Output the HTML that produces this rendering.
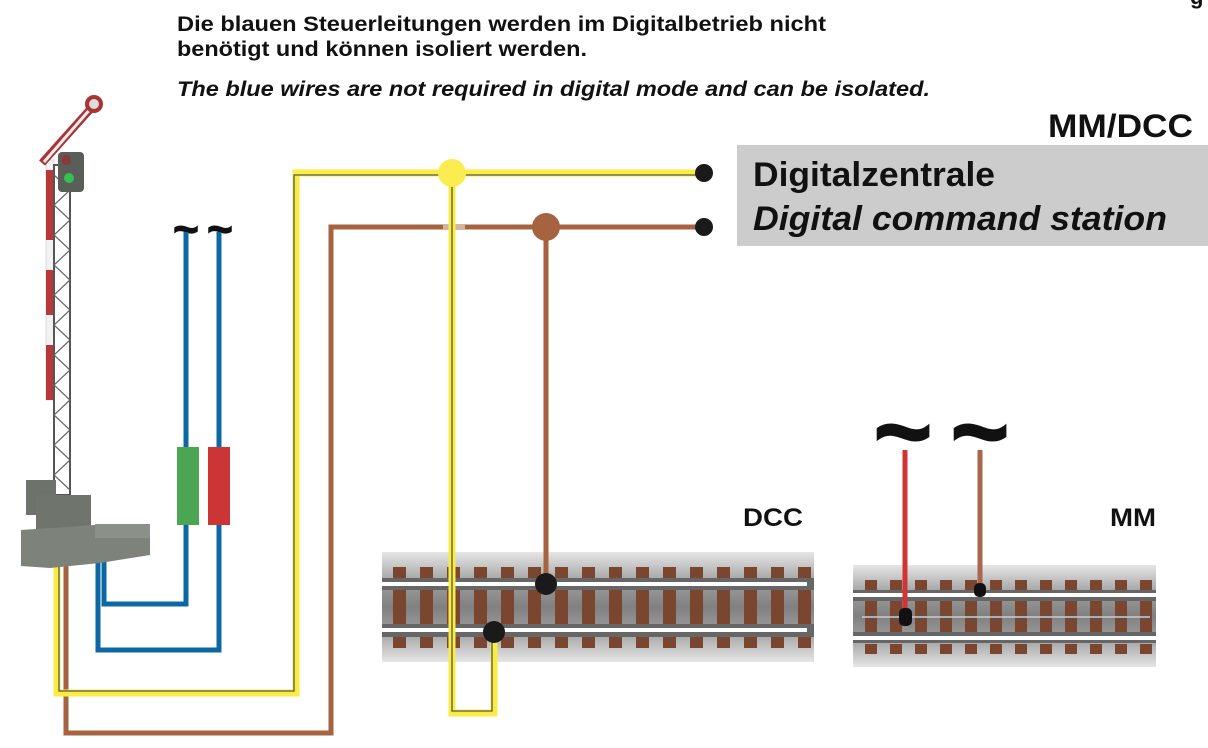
<!DOCTYPE html>
<html><head><meta charset="utf-8"><style>
html,body{margin:0;padding:0;background:#fff;}
svg{display:block;font-family:"Liberation Sans",sans-serif;}
</style></head><body>
<svg width="1208" height="748" viewBox="0 0 1208 748" xmlns="http://www.w3.org/2000/svg">
<defs>
<linearGradient id="tg" x1="0" y1="0" x2="0" y2="1">
<stop offset="0" stop-color="#e6e6e6"/><stop offset="0.3" stop-color="#9a9a9a"/><stop offset="0.5" stop-color="#808080"/><stop offset="0.7" stop-color="#9a9a9a"/><stop offset="1" stop-color="#e6e6e6"/>
</linearGradient>
<pattern id="tiesD" x="393" y="0" width="27" height="748" patternUnits="userSpaceOnUse">
<rect x="0" y="567" width="13" height="11" fill="#7a4630"/>
<rect x="0" y="590" width="13" height="34" fill="#7a4630"/>
<rect x="0" y="637" width="13" height="11" fill="#7a4630"/>
</pattern>
<pattern id="tiesM" x="865" y="0" width="25" height="748" patternUnits="userSpaceOnUse">
<rect x="0" y="580" width="12" height="10" fill="#7a4630"/>
<rect x="0" y="601" width="12" height="31" fill="#7a4630"/>
<rect x="0" y="644" width="12" height="10" fill="#7a4630"/>
<rect x="2" y="615" width="8" height="4" fill="#555"/>
</pattern>
</defs>

<text x="177" y="31" font-size="21" font-weight="bold" textLength="649" lengthAdjust="spacingAndGlyphs" fill="#111">Die blauen Steuerleitungen werden im Digitalbetrieb nicht</text>
<text x="177" y="56" font-size="21" font-weight="bold" textLength="410" lengthAdjust="spacingAndGlyphs" fill="#111">benötigt und können isoliert werden.</text>
<text x="177" y="96" font-size="21" font-weight="bold" font-style="italic" textLength="753" lengthAdjust="spacingAndGlyphs" fill="#111">The blue wires are not required in digital mode and can be isolated.</text>
<text x="1048" y="137" font-size="32" font-weight="bold" textLength="145" lengthAdjust="spacingAndGlyphs" fill="#111">MM/DCC</text>
<text x="1190" y="4" font-size="22" font-weight="bold" fill="#111">g</text>

<rect x="737" y="145" width="471" height="101" fill="#cccccc"/>
<text x="753" y="186" font-size="34" font-weight="bold" textLength="242" lengthAdjust="spacingAndGlyphs" fill="#111">Digitalzentrale</text>
<text x="753" y="230" font-size="34" font-weight="bold" font-style="italic" textLength="414" lengthAdjust="spacingAndGlyphs" fill="#111">Digital command station</text>

<rect x="382" y="552" width="432" height="110" fill="url(#tg)"/>
<rect x="382" y="552" width="432" height="110" fill="url(#tiesD)"/>
<rect x="382" y="578" width="432" height="12" fill="#666"/>
<rect x="382" y="582" width="425" height="4" fill="#fff"/>
<rect x="382" y="624" width="432" height="13" fill="#666"/>
<rect x="382" y="628" width="425" height="4" fill="#fff"/>
<text x="743" y="526" font-size="25" font-weight="bold" textLength="60" lengthAdjust="spacingAndGlyphs" fill="#111">DCC</text>

<rect x="853" y="565" width="303" height="102" fill="url(#tg)"/>
<rect x="853" y="565" width="303" height="102" fill="url(#tiesM)"/>
<rect x="853" y="590" width="303" height="11" fill="#666"/>
<rect x="853" y="593" width="303" height="4" fill="#fff"/>
<rect x="853" y="632" width="303" height="11" fill="#666"/>
<rect x="853" y="636" width="303" height="4" fill="#fff"/>
<line x1="862" y1="617" x2="1150" y2="617" stroke="#ccc" stroke-width="1.5"/>
<text x="1110" y="526" font-size="25" font-weight="bold" textLength="46" lengthAdjust="spacingAndGlyphs" fill="#111">MM</text>

<text x="903" y="466" font-size="100" font-weight="bold" text-anchor="middle" fill="#111" stroke="#111" stroke-width="2">~</text>
<text x="980" y="466" font-size="100" font-weight="bold" text-anchor="middle" fill="#111" stroke="#111" stroke-width="2">~</text>
<line x1="905" y1="450" x2="905" y2="612" stroke="#d03434" stroke-width="5"/>
<rect x="899" y="608" width="13" height="18" rx="5" fill="#111"/>
<line x1="980" y1="450" x2="980" y2="588" stroke="#a8664a" stroke-width="5"/>
<rect x="974" y="583" width="12" height="14" rx="5" fill="#111"/>

<polyline points="66,565 66,733 331,733 331,227 704,227" fill="none" stroke="#a5643f" stroke-width="5"/>
<line x1="546" y1="227" x2="546" y2="580" stroke="#a5643f" stroke-width="5"/>
<rect x="443" y="224" width="22" height="6" fill="#d6b4a4"/>
<circle cx="546" cy="227" r="14" fill="#a5643f"/>
<circle cx="704" cy="227" r="9" fill="#1a1a1a"/>

<polyline points="57,565 57,693 296,693 296,173 704,173" fill="none" stroke="#fbec41" stroke-width="7"/>
<polyline points="59,565 59,691 294,691 294,175 704,175" fill="none" stroke="#555" stroke-width="1.3"/>
<polyline points="452,173 452,713 494,713 494,632" fill="none" stroke="#fbec41" stroke-width="7"/>
<polyline points="452,173 452,711 492,711 492,632" fill="none" stroke="#555" stroke-width="1.3"/>
<circle cx="452" cy="173" r="14" fill="#fbec4f"/>
<circle cx="704" cy="173" r="9" fill="#1a1a1a"/>

<circle cx="546" cy="584" r="11" fill="#1a1a1a"/>
<circle cx="494" cy="632" r="11" fill="#1a1a1a"/>

<text x="186" y="244" font-size="44" font-weight="bold" text-anchor="middle" fill="#111" stroke="#111" stroke-width="1.2">~</text>
<text x="220" y="244" font-size="44" font-weight="bold" text-anchor="middle" fill="#111" stroke="#111" stroke-width="1.2">~</text>
<polyline points="186,232 186,604 104,604 104,562" fill="none" stroke="#0c68a3" stroke-width="5"/>
<polyline points="219,232 219,650 98,650 98,562" fill="none" stroke="#0c68a3" stroke-width="5"/>
<rect x="177" y="447" width="22" height="78" fill="#4ba553"/>
<rect x="208" y="447" width="22" height="78" fill="#cc3535"/>

<rect x="46" y="160" width="8" height="240" fill="#f2f2f2" stroke="#bbb" stroke-width="0.5"/>
<rect x="46" y="170" width="8" height="70" fill="#b8383a"/>
<rect x="46" y="270" width="8" height="45" fill="#b8383a"/>
<rect x="46" y="345" width="8" height="55" fill="#b8383a"/>
<rect x="54" y="165" width="16" height="330" fill="none" stroke="#555" stroke-width="2"/>
<path d="M54,175 L70,190 L54,205 L70,220 L54,235 L70,250 L54,265 L70,280 L54,295 L70,310 L54,325 L70,340 L54,355 L70,370 L54,385 L70,400 L54,415 L70,430 L54,445 L70,460 L54,475 L70,490" fill="none" stroke="#666" stroke-width="1.2"/>
<line x1="42" y1="163" x2="94" y2="105" stroke="#a33" stroke-width="8"/>
<line x1="44" y1="162" x2="92" y2="107" stroke="#eee" stroke-width="3"/>
<circle cx="94" cy="104" r="9" fill="#a33"/>
<circle cx="94" cy="104" r="5" fill="#ddd"/>
<rect x="58" y="152" width="26" height="40" rx="4" fill="#5a5e58"/>
<circle cx="66" cy="160" r="5" fill="#8a3a3a"/>
<circle cx="69" cy="178" r="5" fill="#36c050"/>
<rect x="26" y="480" width="30" height="35" fill="#6d726b"/>
<rect x="36" y="495" width="55" height="40" fill="#6f746d"/>
<path d="M21,530 L95,525 L150,537 L150,555 L100,563 L50,568 L21,566 Z" fill="#7d827b"/>
<rect x="95" y="524" width="55" height="14" fill="#8b9089"/>
</svg>
</body></html>
